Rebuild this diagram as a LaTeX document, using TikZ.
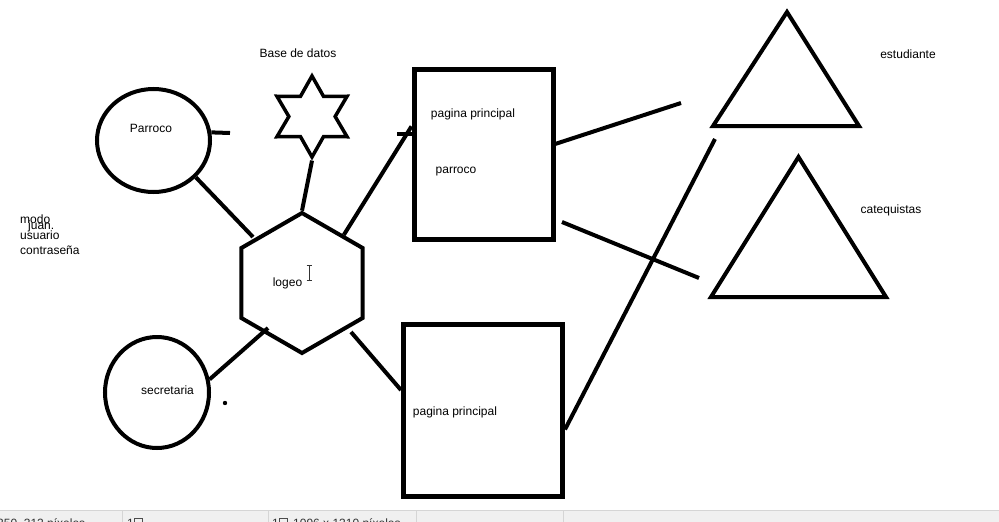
\documentclass[tikz,border=0pt]{standalone}
\usepackage{fontspec}
\setmainfont{Liberation Sans}
\usepackage{tikz}
\tikzset{>=latex}
\usetikzlibrary{calc,shapes.geometric,positioning}
\definecolor{barrafondo}{HTML}{F0F0F0}
\definecolor{barralinea}{HTML}{D5D5D5}
\tikzset{
    trazo/.style={line width=4pt},
    forma/.style={draw, line width=4pt, inner sep=0pt},
    caja/.style={draw, rectangle, line width=5pt, inner sep=0pt},
    texto/.style={font=\fontsize{12}{14}\selectfont, inner sep=0pt, anchor=mid},
    barra/.style={font=\fontsize{12}{14}\selectfont, inner sep=0pt, anchor=base west, text=black!80}
}

\begin{document}
\begin{tikzpicture}[x=1pt, y=-1pt]
                \useasboundingbox (0,0) rectangle (999,522);

                % barra de estado
                \begin{scope}
                \clip (0,510) rectangle (999,522);
                \fill[barrafondo] (0,510) rectangle (999,522);
                \draw[barralinea] (0,510.5) -- (999,510.5);
                \foreach \x in {122,268,416,563}
                {
                \draw[barralinea] (\x,511) -- (\x,522);
                }
                \node[barra] (pos) at (-3,527) {350, 312 píxeles};
                \node[barra] (sel) at (127,527) {1};
                \node[barra] (tam) at (272,527) {1};
                \draw[black!70, thin] (134,518) rectangle (142,526);
                \draw[black!70, thin] (279,518) rectangle (287,526);
                \node[barra] (tamtxt) at (293,527) {1096 x 1310 píxeles};
                \end{scope}

                % formas
                \node[forma, ellipse, minimum width=113pt, minimum height=103pt] (parroco) at (153.5,140.5) {};
                \node[forma, ellipse, minimum width=104pt, minimum height=111pt] (secretaria) at (157,392.5) {};
                \node[forma, regular polygon, regular polygon sides=6, shape border rotate=30, minimum size=140pt] (logeo) at (302,283) {};
                \node[forma, star, star points=6, star point ratio=1.75, minimum size=81pt, line width=3.5pt] (datos) at (312,116.5) {};
                \node[caja, minimum width=139pt, minimum height=170pt] (pagpar) at (483.5,154) {};
                \node[caja, minimum width=159pt, minimum height=172pt] (pagsec) at (483,410.5) {};

                \coordinate (estA) at (787,12);
                \coordinate (estB) at (713,126);
                \coordinate (estC) at (859,126);
                \draw[trazo] (estA) -- (estB) -- (estC) -- cycle;
                \coordinate (catA) at (798.5,157);
                \coordinate (catB) at (711,297);
                \coordinate (catC) at (886,297);
                \draw[trazo] (catA) -- (catB) -- (catC) -- cycle;

                % lineas
                \coordinate (parfin) at (230,133);
                \coordinate (logeoiz) at (253,237);
                \coordinate (logeoab) at (268,328);
                \coordinate (logeode) at (351,332);
                \coordinate (pagstub) at (397,134);
                \coordinate (estfin) at (681,103);
                \coordinate (pagparab) at (562,222);
                \coordinate (catfin) at (699,278);
                \coordinate (estab) at (715,139);

                \draw[trazo] (parroco.8) -- (parfin);
                \draw[trazo] (parroco.-41) -- (logeoiz);
                \draw[trazo] (datos.270) -- (logeo.90);
                \draw[trazo] (logeo.49) -- (pagpar.159);
                \draw[trazo] (pagstub) -- (pagstub -| pagpar.west);
                \draw[trazo] (secretaria.14) -- (logeoab);
                \draw[trazo] (logeode) -- (pagsec.166);
                \draw[trazo] (pagpar.8) -- (estfin);
                \draw[trazo] (pagparab) -- (catfin);
                \draw[trazo] (pagsec.-13) -- (estab);

                \fill (225,403) circle (2.2pt);

                % cursor
                \draw[black!80, line width=1pt] (306.5,265.5) -- (311.5,265.5);
                \draw[black!80, line width=1pt] (309,265.5) -- (309,280);
                \draw[black!80, line width=1pt] (306.5,280) -- (311.5,280);

                % textos
                \node[texto] (tdatos) at (298,55) {Base de datos};
                \node[texto] (tparroco) at (151,130) {Parroco};
                \node[texto] (tpagpar) at (473,115) {pagina principal};
                \node[texto] (tparroco2) at (456,171) {parroco};
                \node[texto] (tlogeo) at (287.5,284) {logeo};
                \node[texto] (tsecre) at (167.5,392) {secretaria};
                \node[texto] (tpagsec) at (455,413) {pagina principal};
                \node[texto] (testud) at (908,56) {estudiante};
                \node[texto] (tcateq) at (891,211) {catequistas};
                \node[texto, anchor=mid west] (tmodo) at (20,221) {modo};
                \node[texto, anchor=mid west] (tjuan) at (28,227) {juan.};
                \node[texto, anchor=mid west] (tusuario) at (20,237) {usuario};
                \node[texto, anchor=mid west] (tcontra) at (20,252) {contraseña};
\end{tikzpicture}
\end{document}
